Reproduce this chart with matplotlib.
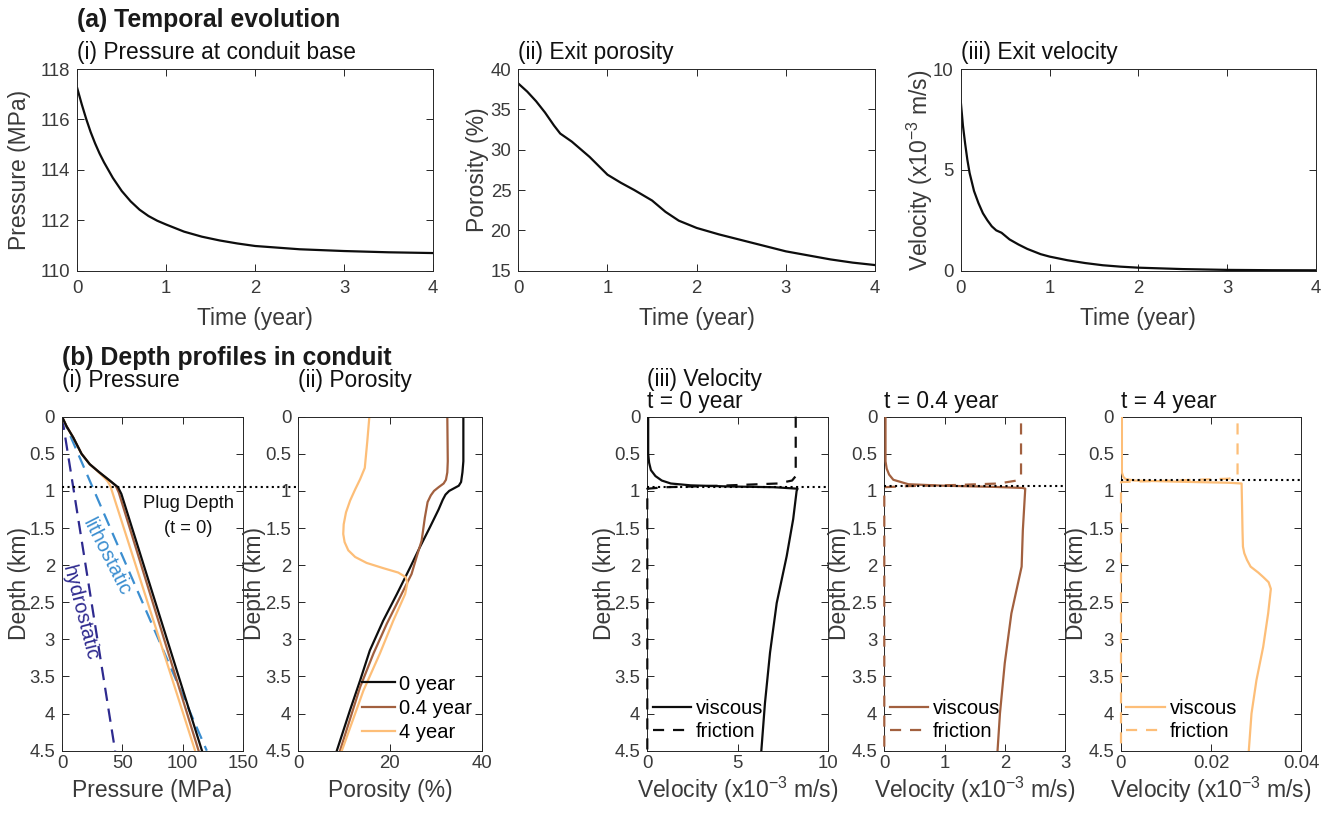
import numpy as np
import matplotlib
matplotlib.use("Agg")
import matplotlib.pyplot as plt
from matplotlib.ticker import FormatStrFormatter
import matplotlib.transforms as mtransforms

plt.rcParams['font.family'] = ['Liberation Sans', 'DejaVu Sans']
plt.rcParams['mathtext.fontset'] = 'custom'
plt.rcParams['mathtext.rm'] = 'Liberation Sans'
plt.rcParams['mathtext.it'] = 'Liberation Sans:italic'
plt.rcParams['mathtext.bf'] = 'Liberation Sans:bold'

# ---------------- data: (a) temporal evolution ----------------
t_pres = [0, 0.05, 0.1, 0.15, 0.2, 0.25, 0.3, 0.4, 0.5, 0.6, 0.7, 0.8, 0.9, 1.0,
          1.2, 1.4, 1.6, 1.8, 2.0, 2.5, 3.0, 3.5, 4.0]
pres_base = [117.23, 116.6, 116.02, 115.5, 115.05, 114.65, 114.3, 113.68, 113.16,
             112.75, 112.42, 112.17, 111.98, 111.83, 111.55, 111.35, 111.2, 111.08,
             110.98, 110.85, 110.78, 110.73, 110.70]

t_por = [0, 0.1, 0.2, 0.3, 0.4, 0.47, 0.6, 0.8, 1.0, 1.15, 1.3, 1.5, 1.65, 1.8,
         2.0, 2.25, 2.5, 2.75, 3.0, 3.25, 3.5, 3.75, 4.0]
por_exit = [38.2, 37.2, 36.0, 34.6, 33.0, 32.0, 31.0, 29.1, 26.9, 25.9, 25.0,
            23.7, 22.3, 21.2, 20.3, 19.5, 18.8, 18.1, 17.4, 16.9, 16.4, 16.0, 15.7]

t_vel = [0, 0.025, 0.05, 0.075, 0.1, 0.15, 0.2, 0.25, 0.3, 0.35, 0.4, 0.46, 0.55,
         0.65, 0.75, 0.9, 1.0, 1.2, 1.4, 1.6, 1.8, 2.0, 2.5, 3.0, 3.5, 4.0]
vel_exit = [8.43, 7.2, 6.3, 5.5, 4.85, 3.95, 3.35, 2.85, 2.5, 2.2, 2.0, 1.88, 1.55,
            1.3, 1.08, 0.82, 0.7, 0.52, 0.38, 0.27, 0.2, 0.15, 0.08, 0.04, 0.025, 0.02]

# ---------------- data: (b) depth profiles ----------------
time_labels = ['0 year', '0.4 year', '4 year']
plug_depth = [0.95, 0.93, 0.85]

# pressure profiles (depth km, pressure MPa)
pd_0 = [0, 0.13, 0.28, 0.5, 0.64, 0.75, 0.86, 0.95, 1.04, 4.5]
p_0 = [0, 3.8, 9.3, 16.2, 23.0, 31.0, 39.6, 46.4, 49.2, 116.0]
pd_04 = [0, 0.13, 0.28, 0.5, 0.64, 0.75, 0.86, 0.93, 1.02, 4.5]
p_04 = [0, 3.8, 9.3, 16.2, 23.0, 31.0, 39.3, 44.5, 47.0, 113.2]
pd_4 = [0, 0.13, 0.28, 0.5, 0.64, 0.75, 0.82, 0.87, 0.93, 4.5]
p_4 = [0, 3.8, 9.3, 16.2, 23.0, 30.5, 35.0, 37.8, 40.0, 110.3]
hydro_depth = [0, 4.5]
hydro_p = [0, 44.0]
litho_depth = [0, 4.5]
litho_p = [0, 120.0]

# porosity profiles (depth km, porosity %)
phid_0 = [0, 0.6, 0.75, 0.88, 0.93, 0.97, 1.0, 1.05, 1.12, 1.25, 1.49, 1.76,
          2.03, 2.39, 2.75, 3.15, 3.55, 3.95, 4.5]
phi_0 = [36.0, 36.0, 35.8, 35.5, 35.0, 33.8, 32.9, 32.1, 31.5, 30.6, 28.7, 26.5,
         24.4, 21.5, 18.5, 15.6, 13.5, 11.3, 8.4]
phid_04 = [0, 0.6, 0.75, 0.85, 0.9, 0.95, 1.0, 1.06, 1.15, 1.36, 1.67, 1.89,
           2.12, 2.43, 2.79, 3.19, 3.64, 4.5]
phi_04 = [32.5, 32.6, 32.5, 32.2, 31.7, 30.6, 29.6, 28.9, 28.2, 27.6, 26.9, 25.8,
          24.7, 22.2, 19.3, 16.4, 13.5, 9.1]
phid_4 = [0, 0.33, 0.69, 0.84, 0.98, 1.13, 1.29, 1.45, 1.58, 1.69, 1.80, 1.89,
          1.97, 2.04, 2.10, 2.16, 2.24, 2.39, 2.75, 3.19, 3.69, 4.5]
phi_4 = [15.5, 15.05, 14.5, 13.5, 12.4, 11.3, 10.4, 9.9, 9.8, 10.1, 10.9, 12.4,
         14.9, 18.5, 21.8, 23.4, 23.8, 23.3, 20.7, 17.8, 14.2, 9.5]

# velocity profiles (depth km, velocity x1e-3 m/s)
vd_visc_0 = [0, 0.5, 0.62, 0.72, 0.8, 0.86, 0.9, 0.925, 0.94, 0.95, 0.97, 1.0,
             1.38, 1.88, 2.51, 3.18, 3.86, 4.5]
v_visc_0 = [0.05, 0.05, 0.1, 0.2, 0.45, 0.8, 1.3, 2.4, 4.5, 7.0, 8.3, 8.25,
            8.06, 7.7, 7.15, 6.78, 6.5, 6.3]
vd_fric_0 = [0, 0.8, 0.86, 0.9, 0.93, 0.95, 0.97, 4.5]
v_fric_0 = [8.2, 8.2, 8.0, 7.2, 4.0, 1.0, 0.0, 0.0]

vd_visc_04 = [0, 0.6, 0.7, 0.78, 0.85, 0.91, 0.93, 0.945, 0.96, 0.97, 1.53, 2.02,
              2.65, 3.32, 4.0, 4.5]
v_visc_04 = [0.02, 0.02, 0.04, 0.08, 0.15, 0.4, 1.0, 1.8, 2.3, 2.34, 2.3, 2.28,
             2.11, 2.0, 1.92, 1.88]
vd_fric_04 = [0.09, 0.8, 0.86, 0.9, 0.92, 0.935, 0.95, 4.5]
v_fric_04 = [2.27, 2.27, 2.2, 1.9, 1.2, 0.4, 0.0, 0.0]

vd_visc_4 = [0, 0.75, 0.81, 0.84, 0.86, 0.875, 0.89, 0.9, 1.2, 1.53, 1.75, 1.84,
             1.93, 2.02, 2.1, 2.16, 2.23, 2.32, 2.65, 3.1, 3.55, 4.0, 4.5]
v_visc_4 = [0.0002, 0.0002, 0.0005, 0.001, 0.003, 0.012, 0.024, 0.0268, 0.0269,
            0.027, 0.0271, 0.0274, 0.028, 0.0288, 0.0305, 0.0316, 0.0328, 0.0333,
            0.0327, 0.0316, 0.0301, 0.029, 0.0284]
vd_fric_4 = [0.09, 0.8, 0.835, 0.86, 0.88, 4.5]
v_fric_4 = [0.0259, 0.0259, 0.024, 0.012, 0.0, 0.0]

# ---------------- styling ----------------
C_BLACK = '#0d0d0d'
C_BROWN = '#A2603F'
C_ORANGE = '#FDBE78'
C_LITHO = '#3B8ED0'
C_HYDRO = '#2E2A8F'
AX_COL = '#262626'
TXT_COL = '#3a3a3a'
TICK_FS = 13.4
LAB_FS = 16.5
SUB_FS = 16.4
BOLD_FS = 17.8
LEG_FS = 14.5
LW = 1.6

W, H = 1330, 818
fig = plt.figure(figsize=(W / 100, H / 100), dpi=100)


def px_axes(x0, x1, y0, y1):
    return fig.add_axes([x0 / W, 1 - y1 / H, (x1 - x0) / W, (y1 - y0) / H])


def style(ax, xpad):
    ax.tick_params(direction='in', length=5, width=0.7, top=True, right=True,
                   labelsize=TICK_FS, colors=AX_COL, labelcolor=TXT_COL, pad=5)
    ax.tick_params(axis='x', pad=xpad)
    for s in ax.spines.values():
        s.set_color(AX_COL)
        s.set_linewidth(0.7)


def set_labels(ax, xl, yl, xcoord, ycoord):
    ax.set_xlabel(xl, fontsize=LAB_FS, color=TXT_COL)
    ax.set_ylabel(yl, fontsize=LAB_FS, color=TXT_COL)
    ax.xaxis.label.set_va('baseline')
    ax.yaxis.label.set_va('baseline')
    ax.xaxis.set_label_coords(0.5, xcoord)
    ax.yaxis.set_label_coords(ycoord, 0.5)


# ---------- (a) top row ----------
top_y0, top_y1 = 69, 270.7
axA1 = px_axes(77.3, 433, top_y0, top_y1)
axA2 = px_axes(518.3, 875, top_y0, top_y1)
axA3 = px_axes(960.7, 1316, top_y0, top_y1)

axA1.plot(t_pres, pres_base, color=C_BLACK, lw=LW)
axA1.set_ylim(110, 118)
axA1.set_yticks([110, 112, 114, 116, 118])
axA2.plot(t_por, por_exit, color=C_BLACK, lw=LW)
axA2.set_ylim(15, 40)
axA2.set_yticks([15, 20, 25, 30, 35, 40])
axA3.plot(t_vel, vel_exit, color=C_BLACK, lw=LW)
axA3.set_ylim(0, 10)
axA3.set_yticks([0, 5, 10])

top_ylabels = ['Pressure (MPa)', 'Porosity (%)', 'Velocity (x10$^{-3}$ m/s)']
top_titles = ['(i) Pressure at conduit base', '(ii) Exit porosity', '(iii) Exit velocity']
top_ycoords = [-0.144, -0.096, -0.093]
for ax, yl, tt, yc in zip([axA1, axA2, axA3], top_ylabels, top_titles, top_ycoords):
    ax.set_xlim(0, 4)
    ax.set_xticks([0, 1, 2, 3, 4])
    style(ax, 7)
    set_labels(ax, 'Time (year)', yl, -0.269, yc)
    ax.text(0, 1.0 + 10 / 201.7, tt, transform=ax.transAxes, fontsize=SUB_FS,
            ha='left', va='baseline', color='#111111')

fig.text(77 / W, 1 - 27 / H, '(a) Temporal evolution', fontsize=BOLD_FS,
         fontweight='bold', ha='left', va='baseline', color='#1a1a1a')
fig.text(62 / W, 1 - 365 / H, '(b) Depth profiles in conduit', fontsize=BOLD_FS,
         fontweight='bold', ha='left', va='baseline', color='#1a1a1a')

# ---------- (b) bottom row ----------
bot_y0, bot_y1 = 416.7, 750.7
bot_h = bot_y1 - bot_y0
axB1 = px_axes(62, 243, bot_y0, bot_y1)
axB2 = px_axes(298.3, 481.7, bot_y0, bot_y1)
axB3 = px_axes(647.3, 828.3, bot_y0, bot_y1)
axB4 = px_axes(884.3, 1065, bot_y0, bot_y1)
axB5 = px_axes(1121, 1301, bot_y0, bot_y1)

colors = [C_BLACK, C_BROWN, C_ORANGE]

# (i) pressure
axB1.plot(hydro_p, hydro_depth, color=C_HYDRO, lw=LW, ls=(0, (6, 3.5)))
axB1.plot(litho_p, litho_depth, color=C_LITHO, lw=LW, ls=(0, (6, 3.5)))
for d, p, c in zip([pd_4, pd_04, pd_0], [p_4, p_04, p_0], colors[::-1]):
    axB1.plot(p, d, color=c, lw=LW)
axB1.set_xlim(0, 150)
axB1.set_xticks([0, 50, 100, 150])
axB1.text(37, 1.89, 'lithostatic', color=C_LITHO, fontsize=14.5, rotation=-63,
          ha='center', va='center', rotation_mode='anchor')
axB1.text(15, 2.65, 'hydrostatic', color=C_HYDRO, fontsize=14.5, rotation=-75.5,
          ha='center', va='center', rotation_mode='anchor')
axB1.text(104.5, 1.17, 'Plug Depth', fontsize=13.2, ha='center', va='center', color='#111111')
axB1.text(104.5, 1.50, '(t = 0)', fontsize=13.2, ha='center', va='center', color='#111111')

# plug depth dotted line spanning panels (i) and (ii)
pos1 = axB1.get_position()
pos2 = axB2.get_position()
x_end = (pos2.x1 - pos1.x0) / pos1.width
trans1 = mtransforms.blended_transform_factory(axB1.transAxes, axB1.transData)
axB1.plot([0, x_end], [plug_depth[0], plug_depth[0]], color='k', lw=1.5, ls=':',
          transform=trans1, clip_on=False, zorder=5)

# (ii) porosity
for d, ph, c, lab in zip([phid_0, phid_04, phid_4], [phi_0, phi_04, phi_4], colors, time_labels):
    axB2.plot(ph, d, color=c, lw=LW, label=lab)
axB2.set_xlim(0, 40)
axB2.set_xticks([0, 20, 40])
axB2.legend(loc='upper left', bbox_to_anchor=(0.345, 0.228), frameon=False,
            fontsize=LEG_FS, handlelength=1.65, handletextpad=0.2,
            labelspacing=0.25, borderaxespad=0, borderpad=0)

# (iii)-(v) velocity
vel_sets = [
    (axB3, vd_visc_0, v_visc_0, vd_fric_0, v_fric_0, C_BLACK, plug_depth[0], [0, 5, 10], (0, 10)),
    (axB4, vd_visc_04, v_visc_04, vd_fric_04, v_fric_04, C_BROWN, plug_depth[1], [0, 1, 2, 3], (0, 3)),
    (axB5, vd_visc_4, v_visc_4, vd_fric_4, v_fric_4, C_ORANGE, plug_depth[2], [0, 0.02, 0.04], (0, 0.04)),
]
for ax, dv, vv, dfr, vf, c, pdp, xt, xl in vel_sets:
    ax.plot(vv, dv, color=c, lw=LW, label='viscous', zorder=3)
    ax.plot(vf, dfr, color=c, lw=LW, ls=(0, (5, 4)), label='friction', zorder=3,
            clip_on=False)
    ax.axhline(pdp, color='k', lw=1.5, ls=':', zorder=4)
    ax.set_xlim(*xl)
    ax.set_xticks(xt)
    ax.legend(loc='lower left', bbox_to_anchor=(0.03, 0.03), frameon=False,
              fontsize=LEG_FS, handlelength=1.9, handletextpad=0.25,
              labelspacing=0.2, borderaxespad=0, borderpad=0)

bot_ycoords = [-0.199, -0.203, -0.2, -0.212, -0.211]
bot_xlabels = ['Pressure (MPa)', 'Porosity (%)', 'Velocity (x10$^{-3}$ m/s)',
               'Velocity (x10$^{-3}$ m/s)', 'Velocity (x10$^{-3}$ m/s)']
for ax, yc, xlab in zip([axB1, axB2, axB3, axB4, axB5], bot_ycoords, bot_xlabels):
    ax.set_ylim(4.5, 0)
    ax.set_yticks([0, 0.5, 1, 1.5, 2, 2.5, 3, 3.5, 4, 4.5])
    ax.yaxis.set_major_formatter(FormatStrFormatter('%g'))
    ax.xaxis.set_major_formatter(FormatStrFormatter('%g'))
    style(ax, 3)
    set_labels(ax, xlab, 'Depth (km)', -0.140, yc)

sub_y = 1 + (bot_y0 - 387) / bot_h
sub_y3 = 1 + (bot_y0 - 386) / bot_h
tb = 1 + (bot_y0 - 408) / bot_h
axB1.text(0, sub_y, '(i) Pressure', transform=axB1.transAxes,
          fontsize=SUB_FS, ha='left', va='baseline', color='#111111')
axB2.text(0, sub_y, '(ii) Porosity', transform=axB2.transAxes,
          fontsize=SUB_FS, ha='left', va='baseline', color='#111111')
axB3.text(0, sub_y3, '(iii) Velocity', transform=axB3.transAxes,
          fontsize=SUB_FS, ha='left', va='baseline', color='#111111')
axB3.text(0, tb, 't = 0 year', transform=axB3.transAxes, fontsize=SUB_FS,
          ha='left', va='baseline', color='#111111')
axB4.text(0, tb, 't = 0.4 year', transform=axB4.transAxes, fontsize=SUB_FS,
          ha='left', va='baseline', color='#111111')
axB5.text(0, tb, 't = 4 year', transform=axB5.transAxes, fontsize=SUB_FS,
          ha='left', va='baseline', color='#111111')

fig.savefig('out.png', dpi=100)
